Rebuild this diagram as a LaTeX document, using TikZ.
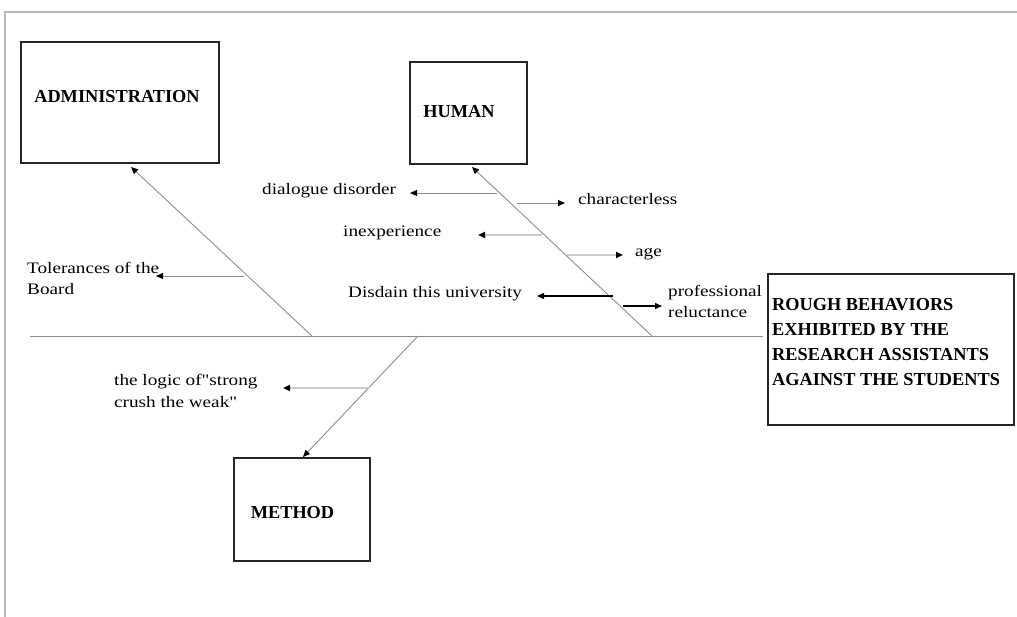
\documentclass[tikz,border=0pt]{standalone}
\usepackage{fontspec}
\setmainfont{Liberation Serif}
\newfontfamily\causefont{Liberation Serif}[FakeStretch=1.2]
\usetikzlibrary{arrows.meta}

\begin{document}
\begin{tikzpicture}[x=1pt,y=-1pt,
  frameline/.style={draw=black!28, line width=2pt},
  catbox/.style={draw=black!85, line width=1.4pt, inner sep=0pt},
  title/.style={font=\fontsize{18.3}{25}\selectfont\bfseries, inner sep=0pt, align=left},
  cause/.style={font=\causefont\fontsize{16}{21.5}\selectfont, inner sep=0pt, align=left, anchor=west},
  bone/.style={draw=black!45, line width=0.9pt},
  tiphead/.style={-{Triangle[length=7pt,width=6pt,color=black]}},
  grayarrow/.style={bone, tiphead},
  palearrow/.style={draw=black!20, line width=2.6pt, -{Triangle[length=7pt,width=6pt,color=black]}},
  darkarrow/.style={draw=black, line width=1.3pt, tiphead}
]
\useasboundingbox (0,0) rectangle (1017,617);

% page frame
\draw[frameline] (5,617) -- (5,12) -- (1017,12);

% category boxes and the effect box
\node[catbox, minimum width=198pt, minimum height=121pt] (adm) at (120,102.5) {};
\node[catbox, minimum width=117pt, minimum height=102pt] (hum) at (468.5,113) {};
\node[catbox, minimum width=136pt, minimum height=103pt] (met) at (302,509.5) {};
\node[catbox, minimum width=246pt, minimum height=151pt] (eff) at (891,349.5) {};

\node[title] (admT) at (117,97) {ADMINISTRATION};
\node[title] (humT) at (459,112) {HUMAN};
\node[title] (metT) at (292.5,513) {METHOD};
\node[title, anchor=west] (effT) at (772,342.5) {ROUGH BEHAVIORS\\EXHIBITED BY THE\\RESEARCH ASSISTANTS\\AGAINST THE STUDENTS};

% spine
\coordinate (spL) at (30,336);
\coordinate (spR) at (763,336);
\draw[bone] (spL) -- (spR);

% main bones
\coordinate (admRoot) at (312,336);  \coordinate (admTip) at (131,167);
\coordinate (humRoot) at (652,336);  \coordinate (humTip) at (472,167);
\coordinate (metRoot) at (418,336);  \coordinate (metTip) at (303,457);
\draw[grayarrow] (admRoot) -- (admTip);
\draw[grayarrow] (humRoot) -- (humTip);
\draw[grayarrow] (metRoot) -- (metTip);

% cause labels
\node[cause] (tol) at (27,278.5) {Tolerances of the\\Board};
\node[cause] (dia) at (262,191) {dialogue disorder};
\node[cause] (cha) at (578,199) {characterless};
\node[cause] (ine) at (343,233) {inexperience};
\node[cause] (age) at (635,254) {age};
\node[cause] (dis) at (348,294) {Disdain this university};
\node[cause] (pro) at (668,301.5) {professional\\reluctance};
\node[cause] (log) at (114,391) {the logic of"strong\\crush the weak"};

% sub-causes
\coordinate (tolS) at (244,276); \coordinate (tolE) at (156,276);
\coordinate (diaS) at (497,193); \coordinate (diaE) at (410,193);
\coordinate (chaS) at (517,203); \coordinate (chaE) at (565,203);
\coordinate (ineS) at (542,235); \coordinate (ineE) at (478,235);
\coordinate (ageS) at (567,255); \coordinate (ageE) at (623,255);
\coordinate (disS) at (613,296); \coordinate (disE) at (537,296);
\coordinate (proS) at (623,306); \coordinate (proE) at (662,306);
\coordinate (logS) at (370,388); \coordinate (logE) at (283,388);

\draw[grayarrow] (tolS) -- (tolE);
\draw[grayarrow] (diaS) -- (diaE);
\draw[grayarrow] (chaS) -- (chaE);
\draw[palearrow] (ineS) -- (ineE);
\draw[palearrow] (ageS) -- (ageE);
\draw[darkarrow] (disS) -- (disE);
\draw[darkarrow] (proS) -- (proE);
\draw[palearrow] (logS) -- (logE);
\end{tikzpicture}
\end{document}
